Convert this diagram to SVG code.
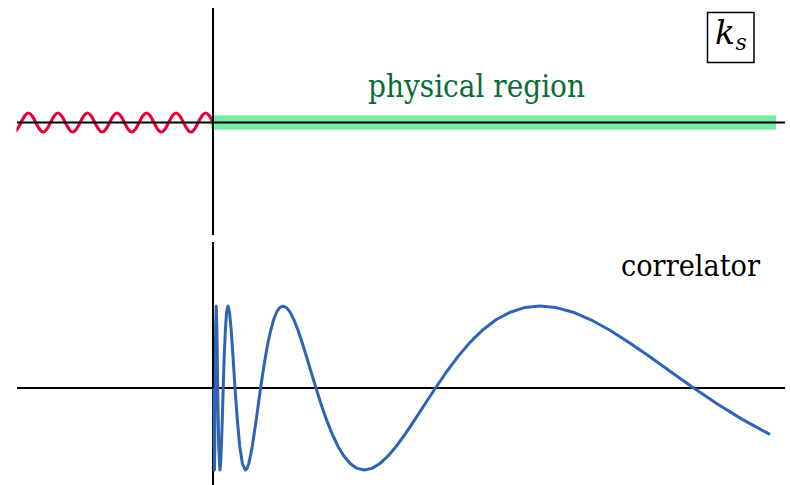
<svg xmlns="http://www.w3.org/2000/svg" width="790" height="485" viewBox="0 0 790 485">
<style>
.axis{stroke:#000;stroke-width:2;fill:none}
text{font-family:'DejaVu Serif',serif}
</style>
<defs>
<clipPath id="clipL"><rect x="16.5" y="90" width="200" height="60"/></clipPath>
</defs>
<rect width="790" height="485" fill="#fff"/>
<g id="physical-region">
<rect x="211" y="115.3" width="565" height="14.4" fill="#7ae9a6"/>
<text x="368" y="96.5" font-size="31" fill="#0b6b3a" textLength="217" lengthAdjust="spacingAndGlyphs">physical region</text>
</g>
<g id="branch-cut">
<path clip-path="url(#clipL)" fill="none" stroke="#e2003d" stroke-width="3" d="M13.615,132 c2.673,0 4.974,-4.628 7.385,-9.5 s4.712,-9.5 7.385,-9.5 s4.974,4.628 7.385,9.5 s4.712,9.5 7.385,9.5 s4.974,-4.628 7.385,-9.5 s4.712,-9.5 7.385,-9.5 s4.974,4.628 7.385,9.5 s4.712,9.5 7.385,9.5 s4.974,-4.628 7.385,-9.5 s4.712,-9.5 7.385,-9.5 s4.974,4.628 7.385,9.5 s4.712,9.5 7.385,9.5 s4.974,-4.628 7.385,-9.5 s4.712,-9.5 7.385,-9.5 s4.974,4.628 7.385,9.5 s4.712,9.5 7.385,9.5 s4.974,-4.628 7.385,-9.5 s4.712,-9.5 7.385,-9.5 s4.974,4.628 7.385,9.5 s4.712,9.5 7.385,9.5 s4.974,-4.628 7.385,-9.5 s4.712,-9.5 7.385,-9.5 s4.974,4.628 7.385,9.5 s4.712,9.5 7.385,9.5 s4.974,-4.628 7.385,-9.5 s4.712,-9.5 7.385,-9.5 s4.974,4.628 7.385,9.5"/>
</g>
<g id="axes">
<line class="axis" x1="17" y1="122.5" x2="785" y2="122.5"/>
<line class="axis" x1="213" y1="8" x2="213" y2="235"/>
<line class="axis" x1="17" y1="388" x2="785" y2="388"/>
<line class="axis" x1="213" y1="242" x2="213" y2="485"/>
</g>
<g id="ks-label">
<rect x="707.5" y="12.5" width="46.5" height="50" fill="none" stroke="#000" stroke-width="1.5"/>
<text x="715" y="44" font-size="33" font-style="italic">k</text>
<text x="735.5" y="50" font-size="22" font-style="italic">s</text>
</g>
<g id="correlator">
<text x="621" y="276" font-size="30" textLength="139" lengthAdjust="spacingAndGlyphs">correlator</text>
<polyline fill="none" stroke="#2f64b4" stroke-width="3" stroke-linejoin="round" points="214.0,388 214.2,446.0 214.5,470 214.8,446.0 215.2,388 215.6,330.0 216.2,306 216.9,330.0 217.7,388 218.7,446.0 219.9,470 220.6,463.8 221.4,446.0 222.3,419.4 223.2,388 224.2,356.6 225.4,330.0 226.6,312.2 228.0,306 229.5,312.2 231.2,330.0 233.0,356.6 235.0,388 237.3,419.4 239.7,446.0 242.4,463.8 245.4,470 247.0,468.4 248.7,463.8 250.4,456.2 252.3,446.0 254.2,433.6 256.3,419.4 258.4,404 260.6,388 263.0,372 265.5,356.6 268.0,342.4 270.8,330.0 273.6,319.8 276.6,312.2 279.7,307.6 283.0,306 286.5,307.6 290.1,312.2 293.9,319.8 297.9,330.0 302.1,342.4 306.5,356.6 311.1,372 316.0,388 321.0,404 326.4,419.4 332.0,433.6 337.8,446.0 344.0,456.2 350.4,463.8 357.2,468.4 364.3,470 371.8,468.4 379.6,463.8 387.9,456.2 396.5,446.0 405.5,433.6 415.0,419.4 425.0,404 435.5,388 446.4,372 457.9,356.6 470.0,342.4 482.7,330.0 496.0,319.8 510.0,312.2 524.6,307.6 540.0,306 556.1,307.6 573.1,312.2 590.8,319.8 609.5,330.0 629.0,342.4 649.5,356.6 671.1,372 693.7,388 717.4,404 742.3,419.4 768.4,433.6 770,434.4"/>
</g>
</svg>
